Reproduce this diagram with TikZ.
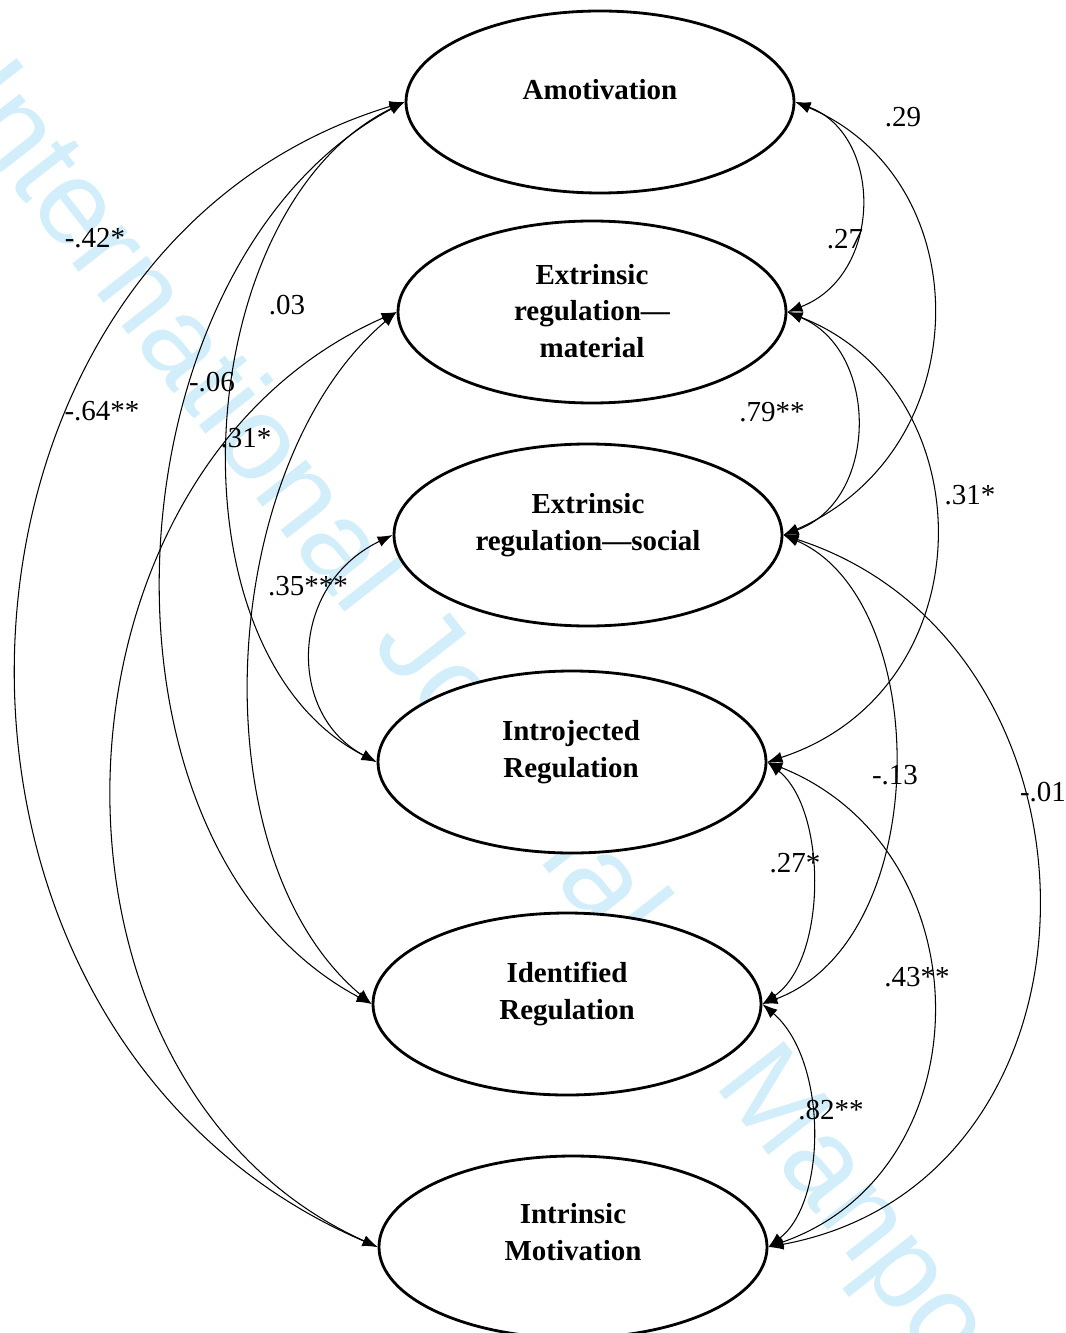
\documentclass[tikz,border=0pt]{standalone}
\usepackage{fontspec}
\setmainfont{Liberation Serif}
\newfontfamily\wmfont{Liberation Sans}
\usetikzlibrary{arrows.meta,shapes.geometric}
\definecolor{wmcyan}{RGB}{210,238,251}

\begin{document}
\begin{tikzpicture}[x=0.2mm,y=-0.2mm,
	factor/.style={draw,ellipse,line width=1.6pt,fill=white,inner sep=0pt,minimum width=77.6mm,minimum height=36.4mm},
	fname/.style={font=\fontsize{16.5}{21}\selectfont\bfseries,align=center,inner sep=0pt},
	cov/.style={{Latex[length=3mm,width=2.2mm]}-{Latex[length=3mm,width=2.2mm]},line width=0.6pt},
	coef/.style={font=\fontsize{16.5}{20}\selectfont,inner sep=0pt}]
	%%%%% START %%%%%
	\useasboundingbox (0,0) rectangle (1065,1333);
	\clip (0,0) rectangle (1065,1333);
	
	\node[anchor=base west,rotate=-52,inner sep=0pt,text=wmcyan,font=\wmfont\fontsize{68}{68}\selectfont] (wm) at (-55,100) {International Journal of Manpower};
	
	\node[factor] (amot) at (600,102) {};
	\node[factor] (erm) at (592,312) {};
	\node[factor] (ers) at (588,535) {};
	\node[factor] (intro) at (572,762) {};
	\node[factor] (ident) at (567,1004) {};
	\node[factor] (intr) at (573,1247) {};
	
	\node[fname] (amot-t) at (600,90) {Amotivation};
	\node[fname] (erm-t) at (592,311) {Extrinsic\\regulation—\\material};
	\node[fname] (ers-t) at (588,525) {Extrinsic\\regulation—social};
	\node[fname] (intro-t) at (571,752) {Introjected\\Regulation};
	\node[fname] (ident-t) at (567,994) {Identified\\Regulation};
	\node[fname] (intr-t) at (573,1232) {Intrinsic\\Motivation};
	
	% left side
	\draw[cov] (amot.west) .. controls +(-495,150) and +(-500,-215) .. (intr.west);
	\draw[cov] (amot.west) .. controls +(-300,160) and +(-300,-160) .. (ident.west);
	\draw[cov] (amot.west) .. controls +(-215,105) and +(-215,-110) .. (intro.west);
	\draw[cov] (erm.west) .. controls +(-365,160) and +(-365,-165) .. (intr.west);
	\draw[cov] (erm.west) .. controls +(-178,150) and +(-178,-150) .. (ident.west);
	\draw[cov] (ers.west) .. controls +(-104,50) and +(-90,-47) .. (intro.west);
	
	% right side
	\draw[cov] (amot.east) .. controls +(88,33) and +(96,-37) .. (erm.east);
	\draw[cov] (amot.east) .. controls +(185,78) and +(196,-85) .. (ers.east);
	\draw[cov] (erm.east) .. controls +(92,38) and +(96,-35) .. (ers.east);
	\draw[cov] (erm.east) .. controls +(200,78) and +(220,-72) .. (intro.east);
	\draw[cov] (ers.east) .. controls +(150,65) and +(172,-64) .. (ident.east);
	\draw[cov] (ers.east) .. controls +(340,110) and +(356,-66) .. (intr.east);
	\draw[cov] (intro.east) .. controls +(60,48) and +(65,-44) .. (ident.east);
	\draw[cov] (intro.east) .. controls +(220,88) and +(218,-76) .. (intr.east);
	\draw[cov] (ident.east) .. controls +(65,56) and +(59,-46) .. (intr.east);
	
	\node[coef] (c1) at (903,117) {.29};
	\node[coef] (c2) at (845,239) {.27};
	\node[coef] (c3) at (95,238) {-.42*};
	\node[coef] (c4) at (287,305) {.03};
	\node[coef] (c5) at (212,382) {-.06};
	\node[coef] (c6) at (102,411) {-.64**};
	\node[coef] (c7) at (772,412) {.79**};
	\node[coef] (c8) at (246,438) {.31*};
	\node[coef] (c9) at (970,495) {.31*};
	\node[coef] (c10) at (308,586) {.35***};
	\node[coef] (c11) at (895,775) {-.13};
	\node[coef] (c12) at (1043,792) {-.01};
	\node[coef] (c13) at (795,863) {.27*};
	\node[coef] (c14) at (917,977) {.43**};
	\node[coef] (c15) at (831,1110) {.82**};
	%%%%% END %%%%%
\end{tikzpicture}
\end{document}
